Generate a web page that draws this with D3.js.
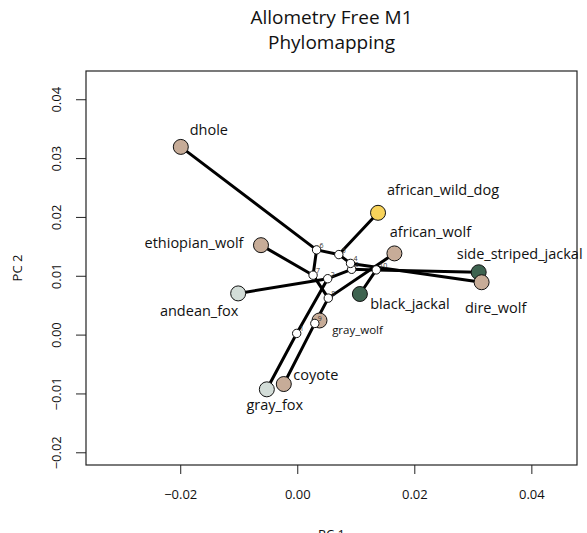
<!DOCTYPE html>
<html>
<head>
<meta charset="utf-8">
<script src="https://cdn.jsdelivr.net/npm/d3@7"></script>
<style>
  html, body { margin: 0; padding: 0; background: #fff; }
  svg { display: block; font-family: "Open Sans", "Noto Sans", sans-serif; }
</style>
</head>
<body>
<svg id="chart" width="587" height="533"></svg>
<script>
// Tip species and their scores on the first two principal components
const tipNames = ["dhole", "african_wild_dog", "african_wolf", "ethiopian_wolf",
  "side_striped_jackal", "dire_wolf", "black_jackal", "andean_fox",
  "gray_wolf", "coyote", "gray_fox"];
const tipPC1 = [-0.0199, 0.0138, 0.0166, -0.0062, 0.0310, 0.0315, 0.0107, -0.0101, 0.0038, -0.0023, -0.0052];
const tipPC2 = [0.0319, 0.0207, 0.0138, 0.0152, 0.0106, 0.0089, 0.0069, 0.0070, 0.0024, -0.0084, -0.0093];
const tipGroup = ["tan", "yellow", "tan", "tan", "green", "tan", "green", "pale", "tan", "tan", "pale"];

// Reconstructed ancestral nodes (numbered from the root)
const nodeNames = ["1", "2", "3", "4", "5", "6", "7", "8", "9", "10"];
const nodePC1 = [-0.0001, 0.0052, 0.0093, 0.0091, 0.0071, 0.0033, 0.0027, 0.0053, 0.0030, 0.0135];
const nodePC2 = [0.0002, 0.0095, 0.0111, 0.0121, 0.0136, 0.0144, 0.0101, 0.0062, 0.0019, 0.0110];

// Tree branches: parent -> child
const edgeParent = ["1", "1", "2", "2", "3", "3", "4", "4", "5", "5",
  "6", "6", "7", "7", "8", "8", "9", "9", "10", "10"];
const edgeChild = ["gray_fox", "2", "andean_fox", "3", "4", "10", "dire_wolf", "5", "african_wild_dog", "6",
  "dhole", "7", "ethiopian_wolf", "8", "african_wolf", "9", "gray_wolf", "coyote", "side_striped_jackal", "black_jackal"];

const xTicks = [-0.02, 0.00, 0.02, 0.04];
const yTicks = [-0.02, -0.01, 0.00, 0.01, 0.02, 0.03, 0.04];

const groupColor = { tan: "#c7ac98", yellow: "#f8d35a", green: "#3e6350", pale: "#d3ddd8" };

const svg = d3.select("#chart");
const plot = { left: 86, right: 577, top: 71, bottom: 465 };

const x = d3.scaleLinear().domain([-0.0361, 0.0478]).range([plot.left, plot.right]);
const y = d3.scaleLinear().domain([-0.02216, 0.0448]).range([plot.bottom, plot.top]);

// Lookup of coordinates by name
const pos = {};
tipNames.forEach((n, i) => pos[n] = [tipPC1[i], tipPC2[i]]);
nodeNames.forEach((n, i) => pos[n] = [nodePC1[i], nodePC2[i]]);

// Title
svg.append("text").attr("x", 331.5).attr("y", 24).attr("text-anchor", "middle")
  .attr("font-size", 19).attr("fill", "#111").text("Allometry Free M1");
svg.append("text").attr("x", 331.5).attr("y", 49).attr("text-anchor", "middle")
  .attr("font-size", 19).attr("fill", "#111").text("Phylomapping");

// Axes
const xAxis = svg.append("g").attr("transform", `translate(0,${plot.bottom})`)
  .call(d3.axisBottom(x).tickValues(xTicks).tickFormat(d3.format(".2f")).tickSize(9).tickPadding(16));
const yAxis = svg.append("g").attr("transform", `translate(${plot.left},0)`)
  .call(d3.axisLeft(y).tickValues(yTicks).tickFormat(d3.format(".2f")).tickSize(10));
[xAxis, yAxis].forEach(g => {
  g.select(".domain").remove();
  g.selectAll("line").attr("stroke", "#222");
  g.selectAll("text").attr("font-size", 13).attr("fill", "#111").attr("font-family", "Open Sans, sans-serif");
});
// y tick labels run parallel to the axis
yAxis.selectAll(".tick text")
  .attr("text-anchor", "middle").attr("x", 0).attr("dy", null).attr("y", 0)
  .attr("transform", "translate(-25,0) rotate(-90)");

svg.append("text").attr("x", 331.5).attr("y", 539).attr("text-anchor", "middle")
  .attr("font-size", 13).attr("fill", "#111").text("PC 1");
svg.append("text").attr("transform", "translate(22,268) rotate(-90)").attr("text-anchor", "middle")
  .attr("font-size", 13).attr("fill", "#111").text("PC 2");

// Frame
svg.append("rect").attr("x", plot.left).attr("y", plot.top)
  .attr("width", plot.right - plot.left).attr("height", plot.bottom - plot.top)
  .attr("fill", "none").attr("stroke", "#222").attr("stroke-width", 1.2);

// Branches
svg.append("g").selectAll("line")
  .data(edgeParent.map((p, i) => [p, edgeChild[i]]))
  .join("line")
  .attr("x1", d => x(pos[d[0]][0])).attr("y1", d => y(pos[d[0]][1]))
  .attr("x2", d => x(pos[d[1]][0])).attr("y2", d => y(pos[d[1]][1]))
  .attr("stroke", "#000").attr("stroke-width", 3).attr("stroke-linecap", "round");

// Tip points
svg.append("g").selectAll("circle")
  .data(tipNames)
  .join("circle")
  .attr("cx", d => x(pos[d][0])).attr("cy", d => y(pos[d][1])).attr("r", 7.5)
  .attr("fill", (d, i) => groupColor[tipGroup[i]])
  .attr("stroke", "#111").attr("stroke-width", 1);

// Ancestral node points with their numbers
svg.append("g").selectAll("circle")
  .data(nodeNames)
  .join("circle")
  .attr("cx", d => x(pos[d][0])).attr("cy", d => y(pos[d][1])).attr("r", 4.2)
  .attr("fill", "#fff").attr("stroke", "#111").attr("stroke-width", 1);
svg.append("g").selectAll("text")
  .data(nodeNames)
  .join("text")
  .attr("x", d => x(pos[d][0]) + 3).attr("y", d => y(pos[d][1]) - 2)
  .attr("font-size", 7).attr("fill", "#333").text(d => d);

// Species labels, placed around each point
const labelOffset = {
  dhole: [28, -17, 14.5], african_wild_dog: [65, -23, 14.5],
  african_wolf: [36, -21, 14.5], ethiopian_wolf: [-67, -2, 14.5],
  side_striped_jackal: [41, -18, 14.5], dire_wolf: [14, 26, 14.5],
  black_jackal: [50, 10, 14.5], andean_fox: [-39, 18, 14.5],
  gray_wolf: [38, 9, 11.5], coyote: [32, -9, 14.5],
  gray_fox: [8, 16, 14.5]
};
svg.append("g").selectAll("text")
  .data(tipNames)
  .join("text")
  .attr("x", d => x(pos[d][0]) + labelOffset[d][0])
  .attr("y", d => y(pos[d][1]) + labelOffset[d][1])
  .attr("dy", "0.35em")
  .attr("text-anchor", "middle")
  .attr("font-size", d => labelOffset[d][2])
  .attr("fill", "#111")
  .text(d => d);
</script>
</body>
</html>
